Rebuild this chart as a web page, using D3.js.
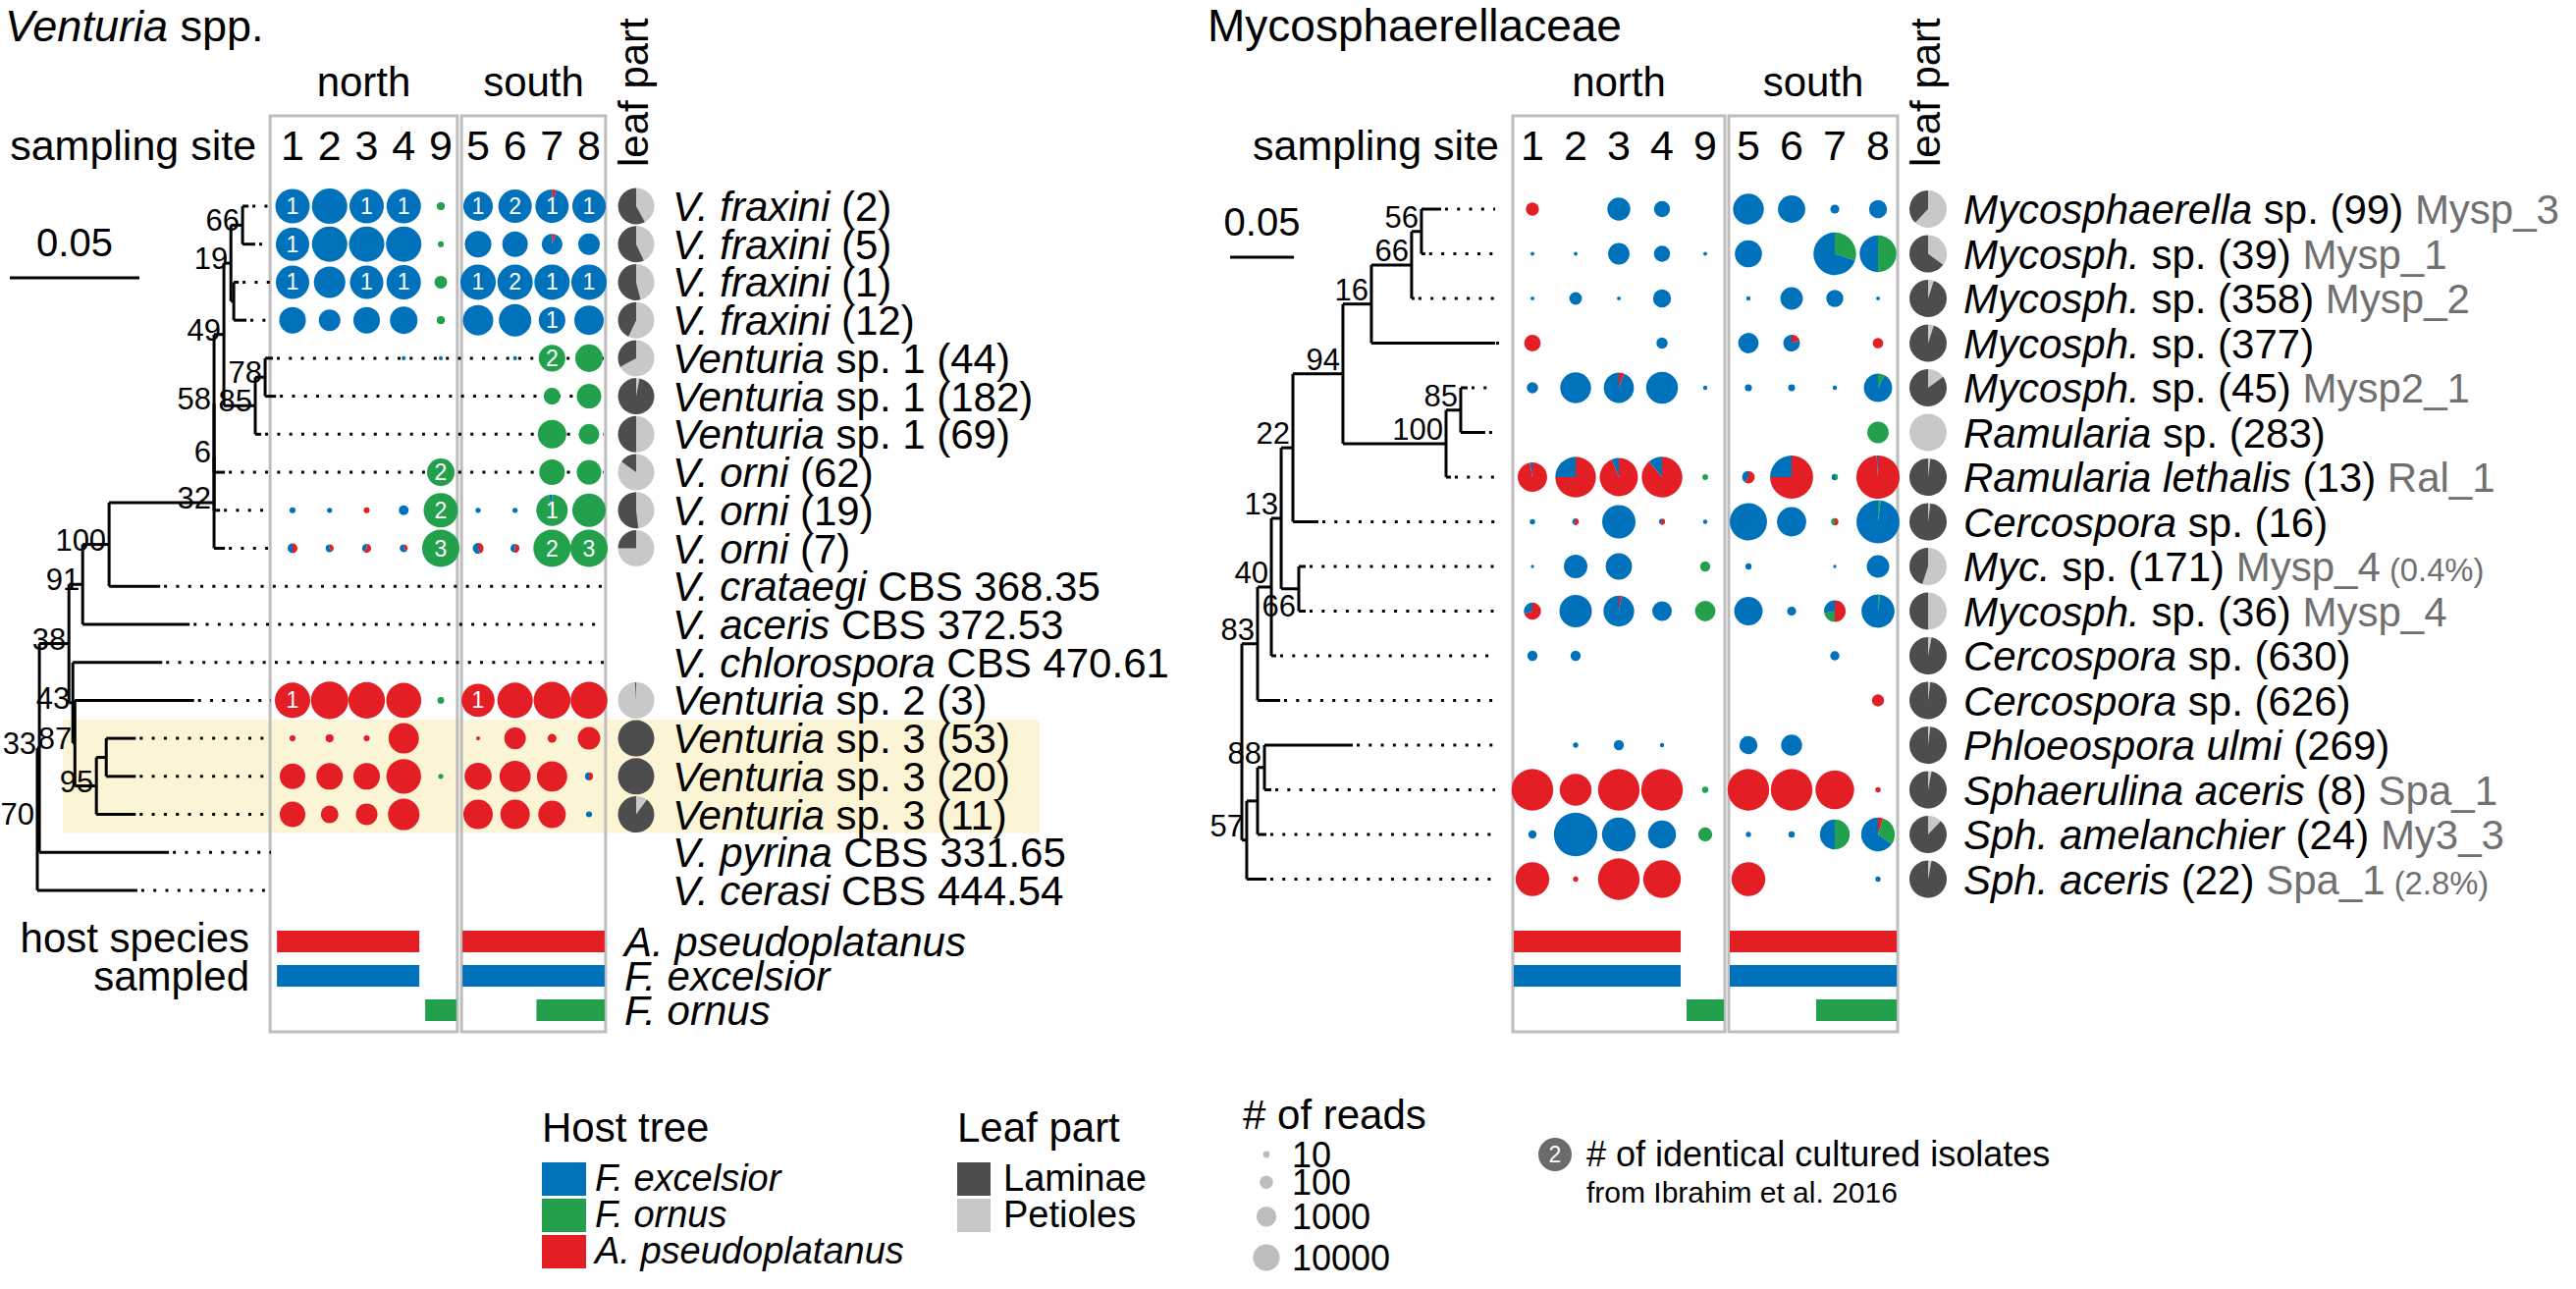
<!DOCTYPE html>
<html>
<head>
<meta charset="utf-8">
<script src="https://cdn.jsdelivr.net/npm/d3@7"></script>
<style>
  body { margin: 0; background: #fff; }
  svg text { white-space: pre; }
</style>
</head>
<body>
<div id="chart"></div>
<script>
const width = 2624, height = 1313;

// ---------- shared data
const sites = ['1', '2', '3', '4', '9', '5', '6', '7', '8'];
const northSites = ['1', '2', '3', '4', '9'];
const southSites = ['5', '6', '7', '8'];
const sampledAcer = ['1', '2', '3', '4', '5', '6', '7', '8'];
const sampledExcelsior = ['1', '2', '3', '4', '5', '6', '7', '8'];
const sampledOrnus = ['9', '7', '8'];
const hostBarNames = ['A. pseudoplatanus', 'F. excelsior', 'F. ornus'];
const hostTreeNames = ['F. excelsior', 'F. ornus', 'A. pseudoplatanus'];
const leafPartNames = ['Laminae', 'Petioles'];
const readTicks = [10, 100, 1000, 10000];

// ---------- Venturia spp.
const ventNewick =
  '(((' +
  '(((((' +
  '(((t1:0.0023,t2:0.0049)66:0.0045,(t3:0.0019,t4:0.0049):0.0011)19:0.0027,' +
  '((t5:0.003,t6:0.0042)78:0.0038,t7:0.0023)85:0.0121)49:0.0038,' +
  't8:0.0042)58:0,t9:0.0023)6:0,t10:0.0042)32:0.0405,t11:0.0197)100:0.0102,t12:0.0413)91:0.0053,' +
  '(t13:0.0345,(t14:0.046,((t15:0.0114,t16:0.0114):0.0038,t17:0.0152)95:0.0083)87:0.0008)43:0.0015)38:0.0114,' +
  't18:0.05)33:0.0008,t19:0.0386)70;';

const ventLabels = [
  '*V. fraxini* (2)', '*V. fraxini* (5)', '*V. fraxini* (1)', '*V. fraxini* (12)',
  '*Venturia* sp. 1 (44)', '*Venturia* sp. 1 (182)', '*Venturia* sp. 1 (69)',
  '*V. orni* (62)', '*V. orni* (19)', '*V. orni* (7)',
  '*V. crataegi* CBS 368.35', '*V. aceris* CBS 372.53', '*V. chlorospora* CBS 470.61',
  '*Venturia* sp. 2 (3)', '*Venturia* sp. 3 (53)', '*Venturia* sp. 3 (20)', '*Venturia* sp. 3 (11)',
  '*V. pyrina* CBS 331.65', '*V. cerasi* CBS 444.54'
];
// host of each cell (site order as in `sites`): e = F. excelsior, o = F. ornus, a = A. pseudoplatanus, m = mixed
const ventHosts = [
  'eeeeoeeme', 'eeeeoeeme', 'eeeeoeeee', 'eeeeoeeee',
  'eeeeeeeoo', 'eeeeeeeoo', 'eeeeeeeoo',
  'eeeeoeeoo', 'eeaeoeemo', 'mmmmommoo',
  '---------', '---------', '---------',
  'aaaaoaaaa', 'aaaaaaaaa', 'aaaaoaaam', 'aaaaaaaae',
  '---------', '---------'
];
const ventReads = [
  [71000, 100000, 71000, 71000, 8, 13000, 51000, 51000, 51000],
  [51000, 100000, 100000, 100000, 4, 4800, 3400, 620, 870],
  [51000, 26000, 51000, 71000, 40, 100000, 100000, 100000, 100000],
  [4800, 870, 4800, 6700, 8, 18000, 36000, 4800, 13000],
  [0, 0, 0, 2, 2, 0, 2, 4800, 6700],
  [0, 0, 0, 0, 0, 0, 0, 160, 2400],
  [0, 0, 0, 0, 0, 0, 0, 9300, 620],
  [0, 0, 0, 0, 6700, 0, 0, 3400, 2400],
  [4, 3, 4, 15, 71000, 3, 3, 26000, 51000],
  [15, 8, 11, 8, 200000, 21, 11, 200000, 200000],
  [0, 0, 0, 0, 0, 0, 0, 0, 0],
  [0, 0, 0, 0, 0, 0, 0, 0, 0],
  [0, 0, 0, 0, 0, 0, 0, 0, 0],
  [100000, 200000, 150000, 90000, 5, 45000, 100000, 170000, 170000],
  [4, 8, 4, 18000, 0, 2, 870, 11, 1200],
  [3400, 4800, 4800, 80000, 3, 5800, 23000, 17000, 8],
  [3400, 220, 870, 26000, 0, 13000, 13000, 6700, 4],
  [0, 0, 0, 0, 0, 0, 0, 0, 0],
  [0, 0, 0, 0, 0, 0, 0, 0, 0]
];
// [row, site index, A. pseudoplatanus, F. ornus, F. excelsior]
const ventMix = [
  [0, 7, 0.04, 0, 0.96], [1, 7, 0.06, 0, 0.94], [8, 7, 0, 0.97, 0.03],
  [9, 0, 0.5, 0, 0.5], [9, 1, 0.4, 0, 0.6], [9, 2, 0.6, 0, 0.4], [9, 3, 0.35, 0, 0.65],
  [9, 5, 0.45, 0, 0.55], [9, 6, 0.55, 0, 0.45], [15, 8, 0.5, 0, 0.5]
];
// [row, site index, isolates]
const ventIsolates = [
  [0, 0, 1], [0, 2, 1], [0, 3, 1], [0, 5, 1], [0, 6, 2], [0, 7, 1], [0, 8, 1],
  [1, 0, 1], [2, 0, 1], [2, 2, 1], [2, 3, 1], [2, 5, 1], [2, 6, 2], [2, 7, 1], [2, 8, 1],
  [3, 7, 1], [4, 7, 2], [7, 4, 2], [8, 4, 2], [8, 7, 1], [9, 4, 3], [9, 7, 2], [9, 8, 3],
  [13, 0, 1], [13, 5, 1]
];
const ventPetioles = [0.42, 0.43, 0.46, 0.57, 0.67, 0.03, 0.5, 0.85, 0.48, 0.75,
  null, null, null, 0.99, 0, 0, 0.1, null, null];
const ventGuideRows = [4, 5, 6, 7, 10, 11, 12];

// ---------- Mycosphaerellaceae
const mycoNewick =
  '(((((((((t1:0.0154,t2:0.003)56:0.0077,t3:0.0023)66:0.0315,t4:0.0969)16:0.0223,' +
  '((t5:0.0054,t6:0.0192)85:0.0115,t7:0.0038)100:0.0808)94:0.0392,t8:0.02)22:0.0092,' +
  '(t9:0.0054,t10:0.0054)66:0.0138)13:0.0077,t11:0.0038)40:0.0108,t12:0.0177)83:0.0123,' +
  '(((t13:0.0692,t14:0.0054)88:0.0054,t15:0.0069):0.0085,t16:0.0154)57:0.0038);';

const mycoLabels = [
  '*Mycosphaerella* sp. (99)', '*Mycosph.* sp. (39)', '*Mycosph.* sp. (358)', '*Mycosph.* sp. (377)',
  '*Mycosph.* sp. (45)', '*Ramularia* sp. (283)', '*Ramularia lethalis* (13)', '*Cercospora* sp. (16)',
  '*Myc.* sp. (171)', '*Mycosph.* sp. (36)', '*Cercospora* sp. (630)', '*Cercospora* sp. (626)',
  '*Phloeospora ulmi* (269)', '*Sphaerulina aceris* (8)', '*Sph. amelanchier* (24)', '*Sph. aceris* (22)'
];
const mycoCodes = ['Mysp_3', 'Mysp_1', 'Mysp_2', '', 'Mysp2_1', '', 'Ral_1', '',
  'Mysp_4', 'Mysp_4', '', '', '', 'Spa_1', 'My3_3', 'Spa_1'];
const mycoShares = ['', '', '', '', '', '', '', '', '(0.4%)', '', '', '', '', '', '', '(2.8%)'];
const mycoHosts = [
  'aeeeeeeee', 'eeeeeeemm', 'eeeeeeeee', 'aeeeeemea',
  'eemeeeeem', 'ooooooooo', 'mmmmommmm', 'ememeeemm',
  'eeeeoeeee', 'memeoeemm', 'eeeeeeeee', 'aaaaaaaaa',
  'eeeeeeeee', 'aaaaoaaaa', 'eeeeoeemm', 'aaaaaaaae'
];
const mycoReads = [
  [24, 0, 440, 58, 0, 4500, 1600, 7, 104],
  [1.5, 1.5, 280, 58, 1.5, 1500, 0, 145000, 26000],
  [1.5, 21, 1.5, 104, 0, 1.8, 390, 78, 1.5],
  [65, 0, 0, 14, 0, 210, 70, 0, 11],
  [14, 4500, 3800, 6000, 1.8, 4, 3.8, 1.8, 2200],
  [0, 0, 0, 0, 0, 0, 0, 0, 280],
  [3000, 82000, 40000, 82000, 2.7, 20, 165000, 3.2, 175000],
  [2.4, 3.6, 9500, 3.2, 1.8, 30000, 2800, 4.3, 165000],
  [1.3, 520, 1200, 0, 10, 3.2, 0, 1.3, 390],
  [78, 7100, 4500, 165, 210, 2200, 7, 300, 9000],
  [10, 10, 0, 0, 0, 0, 0, 7.6, 0],
  [0, 0, 0, 0, 0, 0, 0, 0, 18],
  [0, 2.4, 10, 1.8, 0, 104, 250, 0, 0],
  [110000, 6000, 110000, 110000, 3.2, 110000, 110000, 46000, 2.4],
  [5.7, 195000, 10700, 1900, 32, 2.4, 3.2, 3400, 10700],
  [10700, 2.4, 110000, 34000, 0, 10700, 0, 0, 2.4]
];
const mycoMix = [
  [1, 7, 0, 0.3, 0.7], [1, 8, 0, 0.5, 0.5], [3, 6, 0.2, 0, 0.8],
  [4, 2, 0.06, 0, 0.94], [4, 8, 0, 0.08, 0.92],
  [6, 0, 0.97, 0, 0.03], [6, 1, 0.75, 0, 0.25], [6, 2, 0.94, 0, 0.06], [6, 3, 0.89, 0, 0.11],
  [6, 5, 0.6, 0, 0.4], [6, 6, 0.75, 0, 0.25], [6, 7, 0, 0.5, 0.5], [6, 8, 0.99, 0, 0.01],
  [7, 1, 0.6, 0, 0.4], [7, 3, 0.6, 0, 0.4], [7, 7, 0.5, 0.5, 0], [7, 8, 0, 0.02, 0.98],
  [9, 0, 0.7, 0, 0.3], [9, 2, 0.03, 0, 0.97], [9, 7, 0.5, 0.22, 0.28], [9, 8, 0, 0.02, 0.98],
  [14, 7, 0, 0.5, 0.5], [14, 8, 0.05, 0.3, 0.65]
];
const mycoPetioles = [0.62, 0.35, 0.05, 0.05, 0.15, 1, 0.02, 0.02, 0.55, 0.5, 0.03, 0.02, 0.02, 0.03, 0.12, 0.03];

// ---------- styles
const font = "'Liberation Sans', Arial, sans-serif";
const hostColor = { a: '#e31e25', o: '#22a04b', e: '#0071bb' };
const laminaeColor = '#4d4d4d', petioleColor = '#c8c8c8', boxColor = '#bdbdbd';
const boxTop = 118, boxBottom = 1051;
const barY = [959, 994, 1029], barH = 22;

const svg = d3.select('#chart').append('svg')
  .attr('width', width).attr('height', height)
  .style('font-family', font);

function parseNewick(s) {
  let i = 0;
  function node() {
    const n = {};
    if (s[i] === '(') {
      n.children = [];
      i++;
      n.children.push(node());
      while (s[i] === ',') { i++; n.children.push(node()); }
      i++;
    }
    let name = '';
    while (i < s.length && !',):;'.includes(s[i])) name += s[i++];
    n.name = name;
    if (s[i] === ':') {
      i++;
      let len = '';
      while (i < s.length && !',);'.includes(s[i])) len += s[i++];
      n.length = +len;
    }
    return n;
  }
  return node();
}

function addParts(text, parts) {
  parts.forEach(p => {
    const t = text.append('tspan').text(p.t);
    if (p.italic) t.attr('font-style', 'italic');
    if (p.color) t.attr('fill', p.color);
    if (p.size) t.attr('font-size', p.size);
  });
}
const splitItalic = str => str.split('*').map((t, i) => ({ t, italic: i % 2 === 1 })).filter(p => p.t);

function drawPanel(p) {
  const g = svg.append('g');
  const yRow = d3.scaleLinear().domain([0, p.labels.length - 1]).range(p.yRange);
  const xN = d3.scalePoint().domain(northSites).range(p.northRange);
  const xS = d3.scalePoint().domain(southSites).range(p.southRange);
  const step = xN.step();
  const xSite = s => northSites.includes(s) ? xN(s) : xS(s);
  const rScale = d3.scaleLinear().domain([0, 5]).range([0, p.rMax]);

  // title
  const title = g.append('text').attr('x', p.titleX).attr('y', 42).attr('font-size', p.titleSize);
  addParts(title, splitItalic(p.title));

  // region boxes
  [[xN, northSites, 'north', p.northPad], [xS, southSites, 'south', 0]].forEach(([sc, dom, name, pad]) => {
    const x0 = sc(dom[0]) - step / 2 + 2 - pad, x1 = sc(dom[dom.length - 1]) + step / 2 - 2;
    g.append('rect').attr('x', x0).attr('y', boxTop).attr('width', x1 - x0).attr('height', boxBottom - boxTop)
      .attr('fill', 'none').attr('stroke', boxColor).attr('stroke-width', 3);
    g.append('text').attr('x', (x0 + x1) / 2).attr('y', 98).attr('font-size', 42)
      .attr('text-anchor', 'middle').text(name);
  });
  g.selectAll('.site').data(sites).enter().append('text')
    .attr('x', d => xSite(d)).attr('y', 163).attr('font-size', 43)
    .attr('text-anchor', 'middle').text(d => d);
  g.append('text').attr('x', xN(northSites[0]) - step / 2 - p.northPad - 12).attr('y', 163)
    .attr('font-size', 43).attr('text-anchor', 'end').text('sampling site');
  g.append('text').attr('font-size', 42)
    .attr('transform', `translate(${p.pieX + 12},170) rotate(-90)`).text('leaf part');

  // tree
  const root = d3.hierarchy(parseNewick(p.newick));
  const xTree = d3.scaleLinear().domain([0, 0.05]).range([p.treeX, p.treeX + p.scaleBar]);
  root.each(d => { d.dist = d.parent ? d.parent.dist + (d.data.length || 0) : 0; });
  root.eachAfter(d => {
    d.py = d.children
      ? (d.children[0].py + d.children[d.children.length - 1].py) / 2
      : yRow(+d.data.name.slice(1) - 1);
    d.px = xTree(d.dist);
  });
  const tg = g.append('g').attr('stroke', '#000').attr('stroke-width', 3).attr('fill', 'none');
  const placed = [];
  root.descendants().forEach(d => {
    if (d.parent) tg.append('line').attr('x1', d.parent.px).attr('x2', d.px).attr('y1', d.py).attr('y2', d.py);
    if (d.children) {
      tg.append('line').attr('x1', d.px).attr('x2', d.px)
        .attr('y1', d.children[0].py).attr('y2', d.children[d.children.length - 1].py);
      if (d.data.name) {
        const x1 = d.px - 3, x0 = x1 - d.data.name.length * 17.3;
        let base = d.py + p.supportDy;
        const hit = b => placed.some(q => x0 < q.x1 && x1 > q.x0 && b - 22 < q.y1 && b > q.y0);
        if (hit(base)) base = d.py + 28;
        placed.push({ x0, x1, y0: base - 22, y1: base });
        g.append('text').attr('x', x1).attr('y', base).attr('font-size', 31)
          .attr('text-anchor', 'end').text(d.data.name);
      }
    } else {
      const row = +d.data.name.slice(1) - 1;
      const end = (p.guideRows || []).includes(row) ? p.guideEnd : p.dotEnd;
      tg.append('line').attr('x1', d.px + 4).attr('x2', end).attr('y1', d.py).attr('y2', d.py)
        .attr('stroke-dasharray', '3,9.3');
    }
  });

  // scale bar
  g.append('line').attr('x1', xTree(0) + p.scaleDx).attr('x2', xTree(0.05) + p.scaleDx)
    .attr('y1', p.scaleY).attr('y2', p.scaleY).attr('stroke', '#000').attr('stroke-width', 3);
  g.append('text').attr('x', (xTree(0) + xTree(0.05)) / 2 + p.scaleDx).attr('y', p.scaleY - 22)
    .attr('font-size', 40).attr('text-anchor', 'middle').text('0.05');

  // read circles
  const pie = d3.pie().sort(null).value(d => d);
  const mixOf = (r, c) => p.mix.find(m => m[0] === r && m[1] === c);
  p.reads.forEach((row, ri) => {
    row.forEach((v, ci) => {
      if (!v) return;
      const code = p.hosts[ri][ci];
      const r = rScale(Math.log10(v) + 0.3);
      const cx = xSite(sites[ci]), cy = yRow(ri);
      if (code === 'm') {
        const m = mixOf(ri, ci);
        const arc = d3.arc().innerRadius(0).outerRadius(r);
        g.append('g').attr('transform', `translate(${cx},${cy})`)
          .selectAll('path').data(pie([m[2], m[3], m[4]])).enter().append('path')
          .attr('d', arc).attr('fill', (d, i) => hostColor['aoe'[i]]);
      } else {
        g.append('circle').attr('cx', cx).attr('cy', cy).attr('r', r).attr('fill', hostColor[code] || '#555');
      }
    });
  });
  (p.isolates || []).forEach(([ri, ci, n]) => {
    g.append('text').attr('x', xSite(sites[ci])).attr('y', yRow(ri) + 8).attr('font-size', 23)
      .attr('fill', '#fff').attr('text-anchor', 'middle').text(n);
  });

  // leaf part pies (petioles first, clockwise from 12 o'clock)
  const leafArc = d3.arc().innerRadius(0).outerRadius(p.pieR);
  p.petioles.forEach((v, ri) => {
    if (v === null) return;
    g.append('g').attr('transform', `translate(${p.pieX},${yRow(ri)})`)
      .selectAll('path').data(pie([v, 1 - v])).enter().append('path')
      .attr('d', leafArc).attr('fill', (d, i) => i === 0 ? petioleColor : laminaeColor);
  });

  // taxon labels
  p.labels.forEach((lab, ri) => {
    const t = g.append('text').attr('x', p.labelX).attr('y', yRow(ri) + 15).attr('font-size', p.labelSize);
    const parts = splitItalic(lab);
    if (p.codes && p.codes[ri]) parts.push({ t: ' ' + p.codes[ri], color: '#707070' });
    if (p.shares && p.shares[ri]) parts.push({ t: ' ' + p.shares[ri], color: '#707070', size: p.labelSize * 0.78 });
    addParts(t, parts);
  });

  // sampled host bars
  [[sampledAcer, 'a'], [sampledExcelsior, 'e'], [sampledOrnus, 'o']].forEach(([list, key], bi) => {
    [[xN, northSites], [xS, southSites]].forEach(([sc, dom]) => {
      const inRegion = dom.filter(s => list.includes(s));
      if (!inRegion.length) return;
      const x0 = sc(inRegion[0]) - step / 2 + 3, x1 = sc(inRegion[inRegion.length - 1]) + step / 2 - 3;
      g.append('rect').attr('x', x0).attr('y', barY[bi] - barH / 2).attr('width', x1 - x0).attr('height', barH)
        .attr('fill', hostColor[key]);
    });
  });
  return { yRow, rScale };
}

// highlight band behind Venturia sp. 3
const ventY = d3.scaleLinear().domain([0, 18]).range([210, 907]);
svg.append('rect').attr('x', 64).attr('y', ventY(14) - 19).attr('width', 995)
  .attr('height', ventY(16) - ventY(14) + 38).attr('fill', '#fcf5d5');

const left = drawPanel({
  title: '*Venturia* spp.', titleX: 5, titleSize: 45,
  newick: ventNewick, treeX: 38, scaleBar: 132, scaleDx: -28, scaleY: 283, supportDy: 6,
  labels: ventLabels, hosts: ventHosts, reads: ventReads, mix: ventMix, isolates: ventIsolates,
  petioles: ventPetioles, guideRows: ventGuideRows, guideEnd: 615, dotEnd: 276,
  yRange: [210, 907], northRange: [298, 449], southRange: [487, 600], northPad: 6,
  rMax: 17, pieX: 648, pieR: 18.5, labelX: 685, labelSize: 42
});

const right = drawPanel({
  title: 'Mycosphaerellaceae', titleX: 1230, titleSize: 46,
  newick: mycoNewick, treeX: 1265, scaleBar: 65, scaleDx: -12, scaleY: 262, supportDy: -4,
  labels: mycoLabels, codes: mycoCodes, shares: mycoShares, hosts: mycoHosts, reads: mycoReads, mix: mycoMix,
  petioles: mycoPetioles, dotEnd: 1523,
  yRange: [213, 895.5], northRange: [1561, 1737], southRange: [1781, 1913], northPad: 0,
  rMax: 19.85, pieX: 1964, pieR: 19, labelX: 2000, labelSize: 42
});

// host labels of the bars
svg.append('text').attr('x', 254).attr('y', 970).attr('font-size', 42).attr('text-anchor', 'end').text('host species');
svg.append('text').attr('x', 254).attr('y', 1009).attr('font-size', 42).attr('text-anchor', 'end').text('sampled');
hostBarNames.forEach((n, i) => {
  svg.append('text').attr('x', 636).attr('y', barY[i] + 15).attr('font-size', 42)
    .attr('font-style', 'italic').text(n);
});

// ---------- legends
const lg = svg.append('g');
lg.append('text').attr('x', 552).attr('y', 1163).attr('font-size', 42).text('Host tree');
hostTreeNames.forEach((n, i) => {
  const y = 1184 + i * 37;
  lg.append('rect').attr('x', 552).attr('y', y).attr('width', 45).attr('height', 34)
    .attr('fill', hostColor['eoa'[i]]);
  lg.append('text').attr('x', 606).attr('y', y + 29).attr('font-size', 38).attr('font-style', 'italic').text(n);
});
lg.append('text').attr('x', 975).attr('y', 1163).attr('font-size', 42).text('Leaf part');
leafPartNames.forEach((n, i) => {
  const y = 1184 + i * 37;
  lg.append('rect').attr('x', 975).attr('y', y).attr('width', 34).attr('height', 34)
    .attr('fill', i === 0 ? laminaeColor : petioleColor);
  lg.append('text').attr('x', 1022).attr('y', y + 29).attr('font-size', 38).text(n);
});
lg.append('text').attr('x', 1266).attr('y', 1150).attr('font-size', 42).text('# of reads');
let ly = 1176;
readTicks.forEach((v, i) => {
  const r = left.rScale(Math.log10(v));
  if (i > 0) ly += left.rScale(Math.log10(readTicks[i - 1])) + r + 18;
  lg.append('circle').attr('cx', 1290).attr('cy', ly).attr('r', r).attr('fill', '#bdbdbd');
  lg.append('text').attr('x', 1316).attr('y', ly + 13).attr('font-size', 36).text(v);
});
lg.append('circle').attr('cx', 1584).attr('cy', 1176).attr('r', 17).attr('fill', '#6b6b6b');
lg.append('text').attr('x', 1584).attr('y', 1184).attr('font-size', 23).attr('fill', '#fff')
  .attr('text-anchor', 'middle').text('2');
lg.append('text').attr('x', 1616).attr('y', 1188).attr('font-size', 36).text('# of identical cultured isolates');
lg.append('text').attr('x', 1616).attr('y', 1225).attr('font-size', 30).text('from Ibrahim et al. 2016');
</script>
</body>
</html>
